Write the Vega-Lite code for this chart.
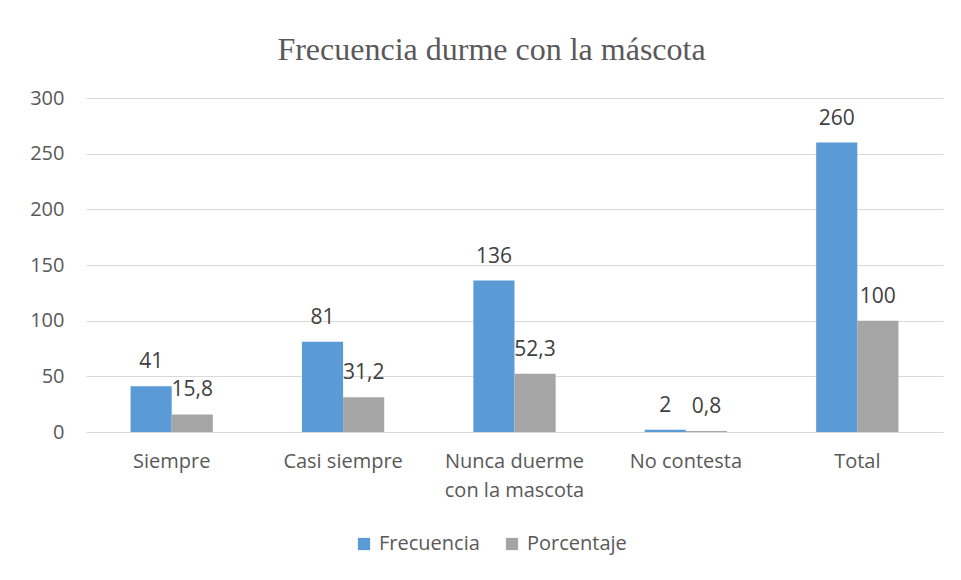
{
  "$schema": "https://vega.github.io/schema/vega-lite/v6.json",
  "width": 857,
  "height": 334,
  "autosize": {"type": "none"},
  "padding": {"left": 86, "top": 98, "right": 18, "bottom": 148},
  "background": "white",
  "title": {
    "text": "Frecuencia durme con la máscota",
    "font": "Liberation Serif",
    "fontSize": 32,
    "fontWeight": "normal",
    "color": "#595959",
    "anchor": "middle",
    "dx": -23,
    "offset": 21
  },
  "data": {
    "values": [
      {"cat": "Siempre", "serie": "Frecuencia", "valor": 41, "lab": "41"},
      {"cat": "Siempre", "serie": "Porcentaje", "valor": 15.8, "lab": "15,8"},
      {"cat": "Casi siempre", "serie": "Frecuencia", "valor": 81, "lab": "81"},
      {"cat": "Casi siempre", "serie": "Porcentaje", "valor": 31.2, "lab": "31,2"},
      {"cat": "Nunca duerme con la mascota", "serie": "Frecuencia", "valor": 136, "lab": "136"},
      {"cat": "Nunca duerme con la mascota", "serie": "Porcentaje", "valor": 52.3, "lab": "52,3"},
      {"cat": "No contesta", "serie": "Frecuencia", "valor": 2, "lab": "2"},
      {"cat": "No contesta", "serie": "Porcentaje", "valor": 0.8, "lab": "0,8"},
      {"cat": "Total", "serie": "Frecuencia", "valor": 260, "lab": "260"},
      {"cat": "Total", "serie": "Porcentaje", "valor": 100, "lab": "100"}
    ]
  },
  "encoding": {
    "x": {
      "field": "cat",
      "type": "nominal",
      "sort": ["Siempre", "Casi siempre", "Nunca duerme con la mascota", "No contesta", "Total"],
      "scale": {"paddingInner": 0.52, "paddingOuter": 0.26},
      "axis": {
        "title": null,
        "labelAngle": 0,
        "domain": false,
        "ticks": false,
        "labelPadding": 19,
        "labelFont": "Open Sans",
        "labelFontSize": 20,
        "labelColor": "#595959",
        "labelLineHeight": 29,
        "labelBaseline": "top",
        "labelExpr": "datum.value == 'Nunca duerme con la mascota' ? ['Nunca duerme', 'con la mascota'] : datum.value"
      }
    },
    "xOffset": {"field": "serie", "type": "nominal", "sort": ["Frecuencia", "Porcentaje"]},
    "y": {
      "field": "valor",
      "type": "quantitative",
      "scale": {"domain": [0, 300]},
      "axis": {
        "title": null,
        "values": [0, 50, 100, 150, 200, 250, 300],
        "domain": false,
        "ticks": false,
        "labelPadding": 22,
        "labelFont": "Open Sans",
        "labelFontSize": 20,
        "labelColor": "#595959",
        "gridColor": "#d9d9d9",
        "gridWidth": 1
      }
    },
    "color": {
      "field": "serie",
      "type": "nominal",
      "sort": ["Frecuencia", "Porcentaje"],
      "scale": {"range": ["#5B9BD5", "#A5A5A5"]},
      "legend": {
        "title": null,
        "orient": "none",
        "direction": "horizontal",
        "legendX": 268,
        "legendY": 436,
        "symbolType": "square",
        "symbolSize": 150,
        "symbolStrokeWidth": 0,
        "labelFont": "Open Sans",
        "labelFontSize": 20,
        "labelColor": "#595959",
        "columnPadding": 22,
        "labelOffset": 5
      }
    }
  },
  "layer": [
    {"mark": {"type": "bar"}},
    {
      "mark": {"type": "text", "baseline": "bottom", "dy": -14, "font": "Open Sans", "fontSize": 21},
      "encoding": {"text": {"field": "lab"}, "color": {"value": "#404040"}}
    }
  ],
  "config": {"view": {"stroke": null}}
}
